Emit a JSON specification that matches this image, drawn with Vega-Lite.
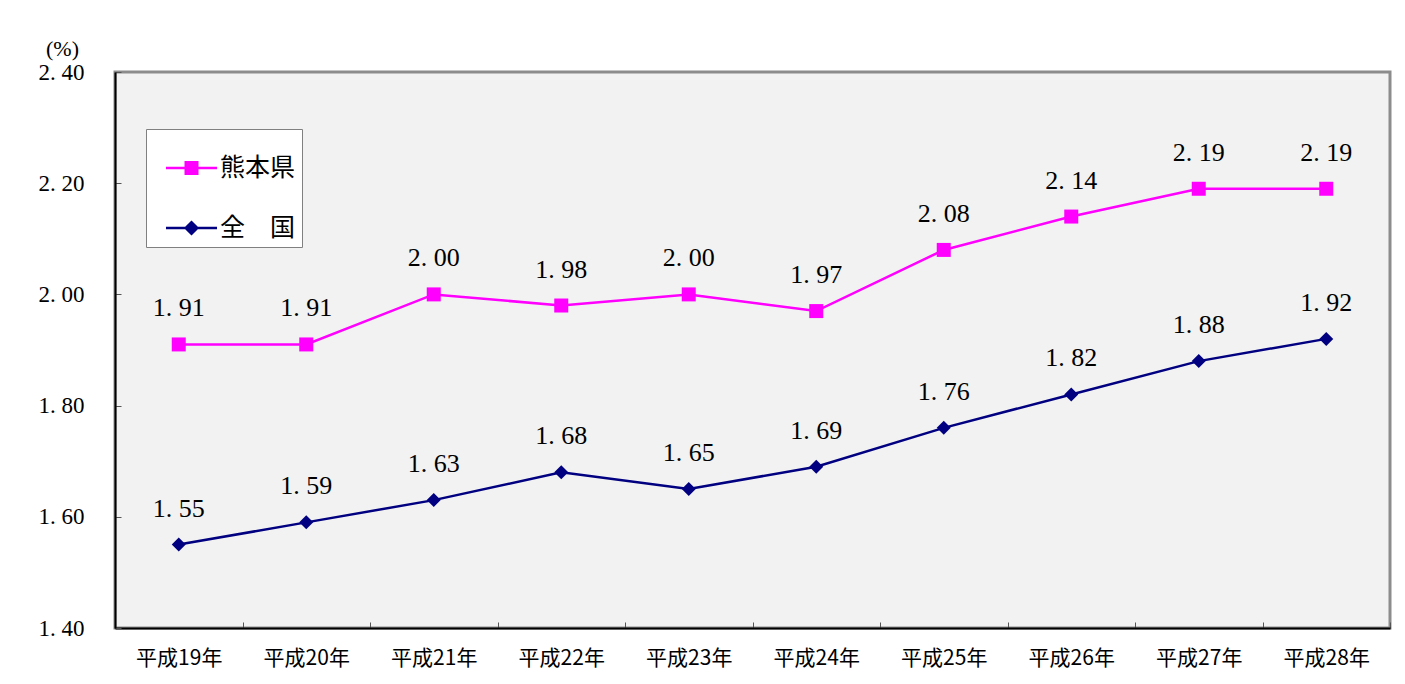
{
  "$schema": "https://vega.github.io/schema/vega-lite/v6.json",
  "width": 1275,
  "height": 556,
  "autosize": "none",
  "padding": {"left": 115, "top": 72, "right": 15, "bottom": 56},
  "background": "white",
  "config": {
    "view": {"fill": "#f2f2f2", "stroke": "#8c8c8c", "strokeWidth": 3},
    "font": "Liberation Serif, DejaVu Serif, serif"
  },
  "data": {
    "values": [
      {"year": "平成19年", "series": "熊本県", "v": 1.91},
      {"year": "平成20年", "series": "熊本県", "v": 1.91},
      {"year": "平成21年", "series": "熊本県", "v": 2.00},
      {"year": "平成22年", "series": "熊本県", "v": 1.98},
      {"year": "平成23年", "series": "熊本県", "v": 2.00},
      {"year": "平成24年", "series": "熊本県", "v": 1.97},
      {"year": "平成25年", "series": "熊本県", "v": 2.08},
      {"year": "平成26年", "series": "熊本県", "v": 2.14},
      {"year": "平成27年", "series": "熊本県", "v": 2.19},
      {"year": "平成28年", "series": "熊本県", "v": 2.19},
      {"year": "平成19年", "series": "全　国", "v": 1.55},
      {"year": "平成20年", "series": "全　国", "v": 1.59},
      {"year": "平成21年", "series": "全　国", "v": 1.63},
      {"year": "平成22年", "series": "全　国", "v": 1.68},
      {"year": "平成23年", "series": "全　国", "v": 1.65},
      {"year": "平成24年", "series": "全　国", "v": 1.69},
      {"year": "平成25年", "series": "全　国", "v": 1.76},
      {"year": "平成26年", "series": "全　国", "v": 1.82},
      {"year": "平成27年", "series": "全　国", "v": 1.88},
      {"year": "平成28年", "series": "全　国", "v": 1.92}
    ]
  },
  "encoding": {
    "x": {
      "field": "year", "type": "nominal", "sort": null,
      "scale": {"type": "band", "paddingInner": 0, "paddingOuter": 0},
      "axis": {
        "title": null, "labelAngle": 0, "tickBand": "extent",
        "domainColor": "#000000", "domainWidth": 2,
        "tickColor": "#555555", "tickSize": -6, "tickWidth": 1,
        "labelFont": "Noto Sans CJK JP", "labelFontSize": 21, "labelColor": "#000000",
        "labelPadding": 25
      }
    },
    "y": {
      "field": "v", "type": "quantitative",
      "scale": {"domain": [1.4, 2.4], "nice": false, "zero": false},
      "axis": {
        "values": [1.4, 1.6, 1.8, 2.0, 2.2, 2.4],
        "labelExpr": "replace(format(datum.value, '.2f'), '.', '. ')",
        "grid": false,
        "domainColor": "#000000", "domainWidth": 2,
        "tickColor": "#555555", "tickSize": -6, "tickWidth": 1,
        "labelFont": "Liberation Serif, DejaVu Serif, serif", "labelFontSize": 23, "labelColor": "#000000",
        "labelPadding": 37,
        "title": "(%)", "titleAngle": 0, "titleFont": "Liberation Serif, DejaVu Serif, serif", "titleFontSize": 22,
        "titleFontWeight": "normal", "titleColor": "#000000",
        "titleX": -53, "titleY": -24, "titleAlign": "center", "titleBaseline": "middle"
      }
    }
  },
  "layer": [
    {
      "mark": {"type": "line", "strokeWidth": 2.5},
      "encoding": {
        "color": {
          "field": "series", "type": "nominal",
          "scale": {"domain": ["熊本県", "全　国"], "range": ["#ff00ff", "#000080"]}
        }
      }
    },
    {
      "transform": [{"filter": "datum.series === '熊本県'"}],
      "mark": {"type": "point", "filled": true, "size": 196, "opacity": 1, "shape": "square"},
      "encoding": {
        "color": {"field": "series", "type": "nominal"}
      }
    },
    {
      "transform": [{"filter": "datum.series === '全　国'"}],
      "mark": {"type": "point", "filled": true, "size": 196, "opacity": 1, "shape": "diamond"},
      "encoding": {
        "color": {"field": "series", "type": "nominal"}
      }
    },
    {
      "transform": [{"filter": "datum.v < 0"}],
      "mark": {"type": "point", "filled": true, "opacity": 1},
      "encoding": {
        "color": {
          "field": "series", "type": "nominal",
          "legend": {
            "title": null, "orient": "none", "legendX": 31, "legendY": 57,
            "fillColor": "#ffffff", "strokeColor": "#808080",
            "padding": 6, "rowPadding": 14,
            "symbolSize": 4356, "labelOffset": 2,
            "symbolStrokeWidth": 0,
            "labelFont": "Noto Sans CJK JP", "labelFontSize": 25, "labelColor": "#000000",
            "labelLimit": 300
          }
        },
        "shape": {
          "field": "series", "type": "nominal",
          "scale": {
            "domain": ["熊本県", "全　国"],
            "range": [
              "M-0.576,-0.04H0.97V0.04H-0.576ZM-0.015,-0.212H0.409V0.212H-0.015Z",
              "M-0.576,-0.04H0.97V0.04H-0.576ZM0.197,-0.23L0.427,0L0.197,0.23L-0.033,0Z"
            ]
          },
          "legend": {
            "title": null, "orient": "none", "legendX": 31, "legendY": 57,
            "fillColor": "#ffffff", "strokeColor": "#808080",
            "padding": 6, "rowPadding": 14,
            "symbolSize": 4356, "labelOffset": 2,
            "symbolStrokeWidth": 0,
            "labelFont": "Noto Sans CJK JP", "labelFontSize": 25, "labelColor": "#000000",
            "labelLimit": 300
          }
        }
      }
    },
    {
      "transform": [
        {"calculate": "replace(format(datum.v, '.2f'), '.', '. ')", "as": "label"}
      ],
      "mark": {"type": "text", "dy": -36, "font": "Liberation Serif, DejaVu Serif, serif", "fontSize": 26, "color": "#000000", "baseline": "middle"},
      "encoding": {
        "text": {"field": "label", "type": "nominal"}
      }
    }
  ]
}
